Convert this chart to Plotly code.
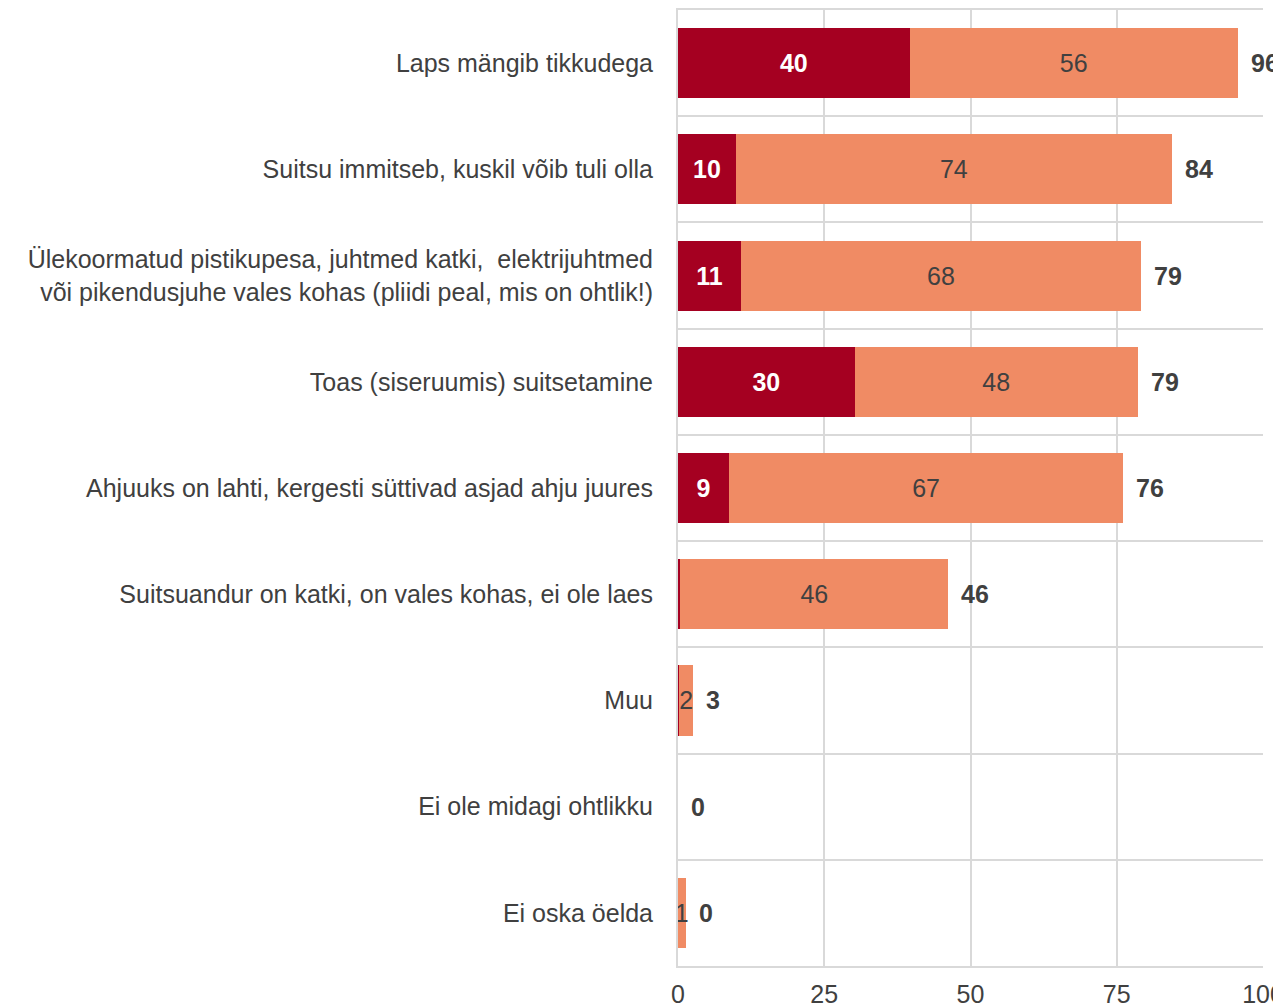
import plotly.graph_objects as go

categories = [
    "Laps mängib tikkudega",
    "Suitsu immitseb, kuskil võib tuli olla",
    "Ülekoormatud pistikupesa, juhtmed katki,  elektrijuhtmed<br>või pikendusjuhe vales kohas (pliidi peal, mis on ohtlik!)",
    "Toas (siseruumis) suitsetamine",
    "Ahjuuks on lahti, kergesti süttivad asjad ahju juures",
    "Suitsuandur on katki, on vales kohas, ei ole laes",
    "Muu",
    "Ei ole midagi ohtlikku",
    "Ei oska öelda",
]
series_a = [39.6, 9.9, 10.8, 30.2, 8.7, 0.4, 0.2, 0.0, 0.0]
series_b = [56.1, 74.5, 68.3, 48.4, 67.4, 45.8, 2.4, 0.0, 1.3]
totals = [96, 84, 79, 79, 76, 46, 3, 0, 0]
x_ticks = [0, 25, 50, 75, 100]

DARK = "#A50021"
SALMON = "#F08B64"
GRID = "#D9D9D9"
TEXT = "#404040"
FONT = "Liberation Sans, Arial, sans-serif"
FS = 25

pos = list(range(len(categories)))
text_a = [f"{v:.0f}" if v >= 1 else "" for v in series_a]
text_b = [f"{v:.0f}" if v > 0 else "" for v in series_b]

fig = go.Figure()
fig.add_trace(go.Bar(
    y=pos, x=series_a, orientation="h", marker_color=DARK, width=0.66,
    marker_line_width=0,
    text=text_a, textposition="inside", insidetextanchor="middle", textangle=0,
    constraintext="none",
    textfont=dict(color="white", size=FS, family=FONT, weight="bold"),
    hoverinfo="skip",
))
fig.add_trace(go.Bar(
    y=pos, x=series_b, orientation="h", marker_color=SALMON, width=0.66,
    marker_line_width=0,
    text=text_b, textposition="inside", insidetextanchor="middle", textangle=0,
    constraintext="none",
    textfont=dict(color=TEXT, size=FS, family=FONT),
    hoverinfo="skip",
))

for i, (a, b, t) in enumerate(zip(series_a, series_b, totals)):
    fig.add_annotation(
        x=a + b, y=i, text=f"<b>{t}</b>", showarrow=False,
        xanchor="left", xshift=11, yanchor="middle",
        font=dict(color=TEXT, size=FS, family=FONT),
    )

fig.update_layout(
    barmode="stack",
    width=1273, height=999,
    margin=dict(l=670, r=18, t=2, b=41, autoexpand=False),
    plot_bgcolor="white", paper_bgcolor="white",
    showlegend=False,
    font=dict(family=FONT, color=TEXT, size=FS),
    xaxis=dict(
        range=[0, 100], tickvals=x_ticks, showgrid=True, gridcolor=GRID, gridwidth=2,
        zeroline=False, showline=True, linecolor=GRID, linewidth=2, mirror=True,
        ticks="", ticklabelstandoff=5, ticklabeloverflow="allow", automargin=False,
        tickfont=dict(size=FS, color=TEXT, family=FONT),
    ),
    yaxis=dict(
        range=[len(categories) - 0.5, -0.5], tickvals=pos, ticktext=categories,
        showgrid=False, zeroline=False, showline=True, linecolor=GRID, linewidth=2,
        ticks="", ticklabelstandoff=18, automargin=False,
        tickfont=dict(size=FS, color=TEXT, family=FONT),
        minor=dict(tickvals=[p + 0.5 for p in pos] + [-0.5], showgrid=True,
                   gridcolor=GRID, gridwidth=2, ticks=""),
    ),
)

fig.write_html("out.html")
